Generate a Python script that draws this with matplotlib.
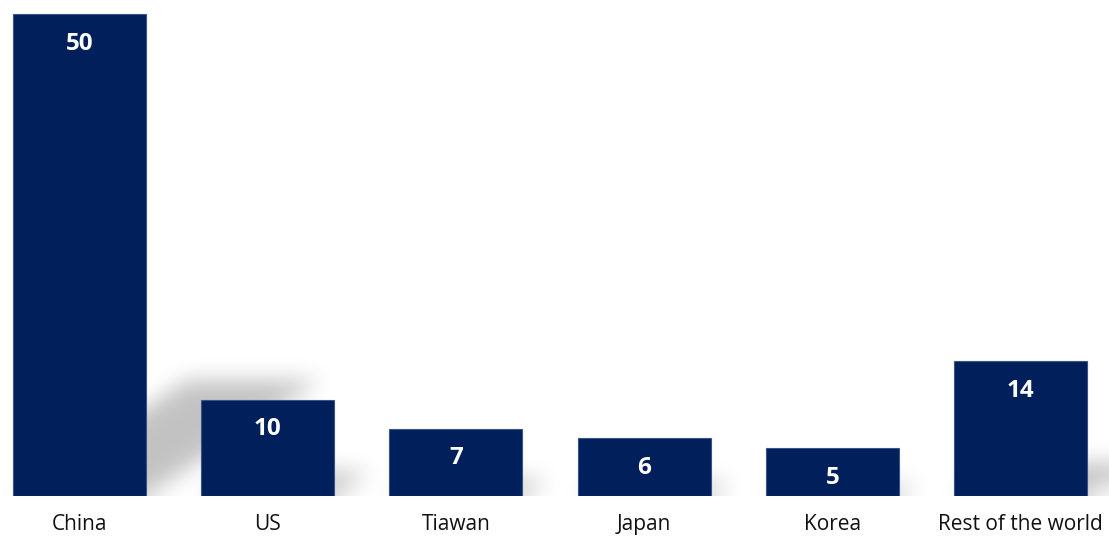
import numpy as np
import matplotlib
matplotlib.use("Agg")
import matplotlib.pyplot as plt
from matplotlib.path import Path

categories = ["China", "US", "Tiawan", "Japan", "Korea", "Rest of the world"]
values = [50, 10, 7, 6, 5, 14]

BAR_COLOR = "#001f5b"
W, H, DPI = 1109, 536, 100

plt.rcParams['font.family'] = ['Open Sans', 'DejaVu Sans']

fig = plt.figure(figsize=(W / DPI, H / DPI), dpi=DPI)
ax = fig.add_axes([0, 40 / H, 1, 496 / H])
x = np.arange(len(categories))
xlim = (-0.4224, 5.470)
ylim = (0, 51.45)
ax.set_xlim(*xlim)
ax.set_ylim(*ylim)
bw = 0.707

# perspective shadow, sheared to the upper right and blurred
nx, ny = W, 496
gx = np.linspace(xlim[0], xlim[1], nx)
gy = np.linspace(ylim[0], ylim[1], ny)
XX, YY = np.meshgrid(gx, gy)
pts = np.column_stack([XX.ravel(), YY.ravel()])
mask = np.zeros(nx * ny)
for xi, v in zip(x, values):
    hs = 0.24 * v
    dx = 0.0185 * v
    poly = Path([(xi - bw / 2, 0), (xi + bw / 2, 0),
                 (xi + bw / 2 + dx, hs), (xi - bw / 2 + dx, hs)])
    mask = np.maximum(mask, poly.contains_points(pts))
mask = mask.reshape(ny, nx)

def box_blur(a, r, axis):
    pad = [(0, 0), (0, 0)]
    pad[axis] = (r, r)
    p = np.pad(a, pad, mode="edge")
    c = np.cumsum(p, axis=axis)
    c = np.insert(c, 0, 0, axis=axis)
    n = a.shape[axis]
    hi = np.take(c, np.arange(2 * r + 1, 2 * r + 1 + n), axis=axis)
    lo = np.take(c, np.arange(0, n), axis=axis)
    return (hi - lo) / (2 * r + 1)

for _ in range(3):
    mask = box_blur(mask, 10, 1)
    mask = box_blur(mask, 10, 0)

rgba = np.zeros((ny, nx, 4))
rgba[..., 3] = mask * 0.24
ax.imshow(rgba, extent=(xlim[0], xlim[1], ylim[0], ylim[1]), origin="lower",
          aspect="auto", zorder=1, interpolation="bilinear")

bars = ax.bar(x, values, width=bw, color=BAR_COLOR, edgecolor="#3a5488",
              linewidth=0.8, zorder=2)
for b, v in zip(bars, values):
    ax.annotate(str(v), (b.get_x() + b.get_width() / 2, v), xytext=(0, -21.5),
                textcoords="offset points", ha="center", va="center",
                color="white", fontsize=17.5, fontweight="bold", zorder=3)

ax.set_xticks(x)
ax.set_xticklabels(categories, fontsize=15, color="#111111")
ax.tick_params(axis="x", length=0, pad=13)
ax.set_yticks([])
for s in ax.spines.values():
    s.set_visible(False)

fig.savefig("out.png", dpi=DPI)
